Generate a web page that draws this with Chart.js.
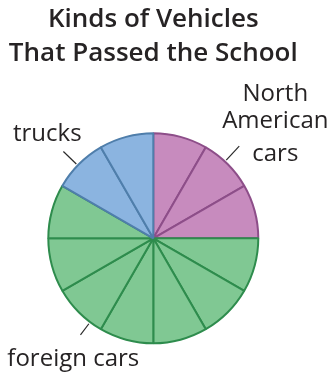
<!DOCTYPE html>
<html><head><meta charset="utf-8">
<script src="https://cdn.jsdelivr.net/npm/chart.js@4/dist/chart.umd.min.js"></script>
<style>html,body{margin:0;padding:0;background:#fff}#wrap{width:331px;height:375px}</style>
</head><body><div id="wrap"><canvas id="c" width="331" height="375"></canvas></div>
<script>
const titleLines = ["Kinds of Vehicles", "That Passed the School"];
const categories = ["North American cars", "foreign cars", "trucks"];
const sliceCounts = [3, 7, 2];
const labelLines = [["North", "American", "cars"], ["foreign cars"], ["trucks"]];

const fillColors = ["#C78BBE", "#80C893", "#8BB4E0"];
const borderColors = ["#8D4E89", "#2E8C4D", "#4F7EAB"];
// label placement: text centre x / baselines relative to pie centre (px); leader angle clockwise from 12 o'clock
const labelPlace = [
  {dx: 122, baselines: [-137, -110, -77], angle: 43, r0: 107, r1: 126},
  {dx: -80, baselines: [128], angle: 217, r0: 107, r1: 121},
  {dx: -106, baselines: [-97], angle: 314, r0: 107, r1: 125}
];

const sliceLabels = [], sliceValues = [], sliceFill = [], sliceBorder = [];
categories.forEach((cat, i) => {
  for (let k = 0; k < sliceCounts[i]; k++) {
    sliceLabels.push(cat); sliceValues.push(1);
    sliceFill.push(fillColors[i]); sliceBorder.push(borderColors[i]);
  }
});

const textColor = "#262324";
const labelPlugin = {
  id: "catLabels",
  afterDraw(chart) {
    const arc = chart.getDatasetMeta(0).data[0];
    const cx = arc.x, cy = arc.y;
    const ctx = chart.ctx;
    ctx.save();
    ctx.fillStyle = textColor;
    ctx.strokeStyle = "#2a2a2a";
    ctx.lineWidth = 1.2;
    ctx.font = "400 24px 'Open Sans'";
    ctx.textAlign = "center";
    ctx.textBaseline = "alphabetic";
    labelPlace.forEach((p, i) => {
      const a = p.angle * Math.PI / 180;
      ctx.beginPath();
      ctx.moveTo(cx + p.r0 * Math.sin(a), cy - p.r0 * Math.cos(a));
      ctx.lineTo(cx + p.r1 * Math.sin(a), cy - p.r1 * Math.cos(a));
      ctx.stroke();
      labelLines[i].forEach((t, j) => ctx.fillText(t, cx + p.dx, cy + p.baselines[j]));
    });
    ctx.restore();
  }
};

new Chart(document.getElementById("c"), {
  type: "pie",
  data: {
    labels: sliceLabels,
    datasets: [{
      data: sliceValues,
      backgroundColor: sliceFill,
      borderColor: sliceBorder,
      borderWidth: 2,
      radius: 105
    }]
  },
  options: {
    responsive: false,
    animation: false,
    events: [],
    layout: {padding: {left: 0, right: 24.4, top: 0, bottom: 0}},
    plugins: {
      legend: {display: false},
      tooltip: {enabled: false},
      title: {
        display: true,
        text: titleLines,
        color: textColor,
        font: {family: "'Open Sans'", size: 26, weight: 600, lineHeight: 34 / 26},
        padding: {top: 2.6, bottom: 31}
      }
    }
  },
  plugins: [labelPlugin]
});
</script></body></html>
